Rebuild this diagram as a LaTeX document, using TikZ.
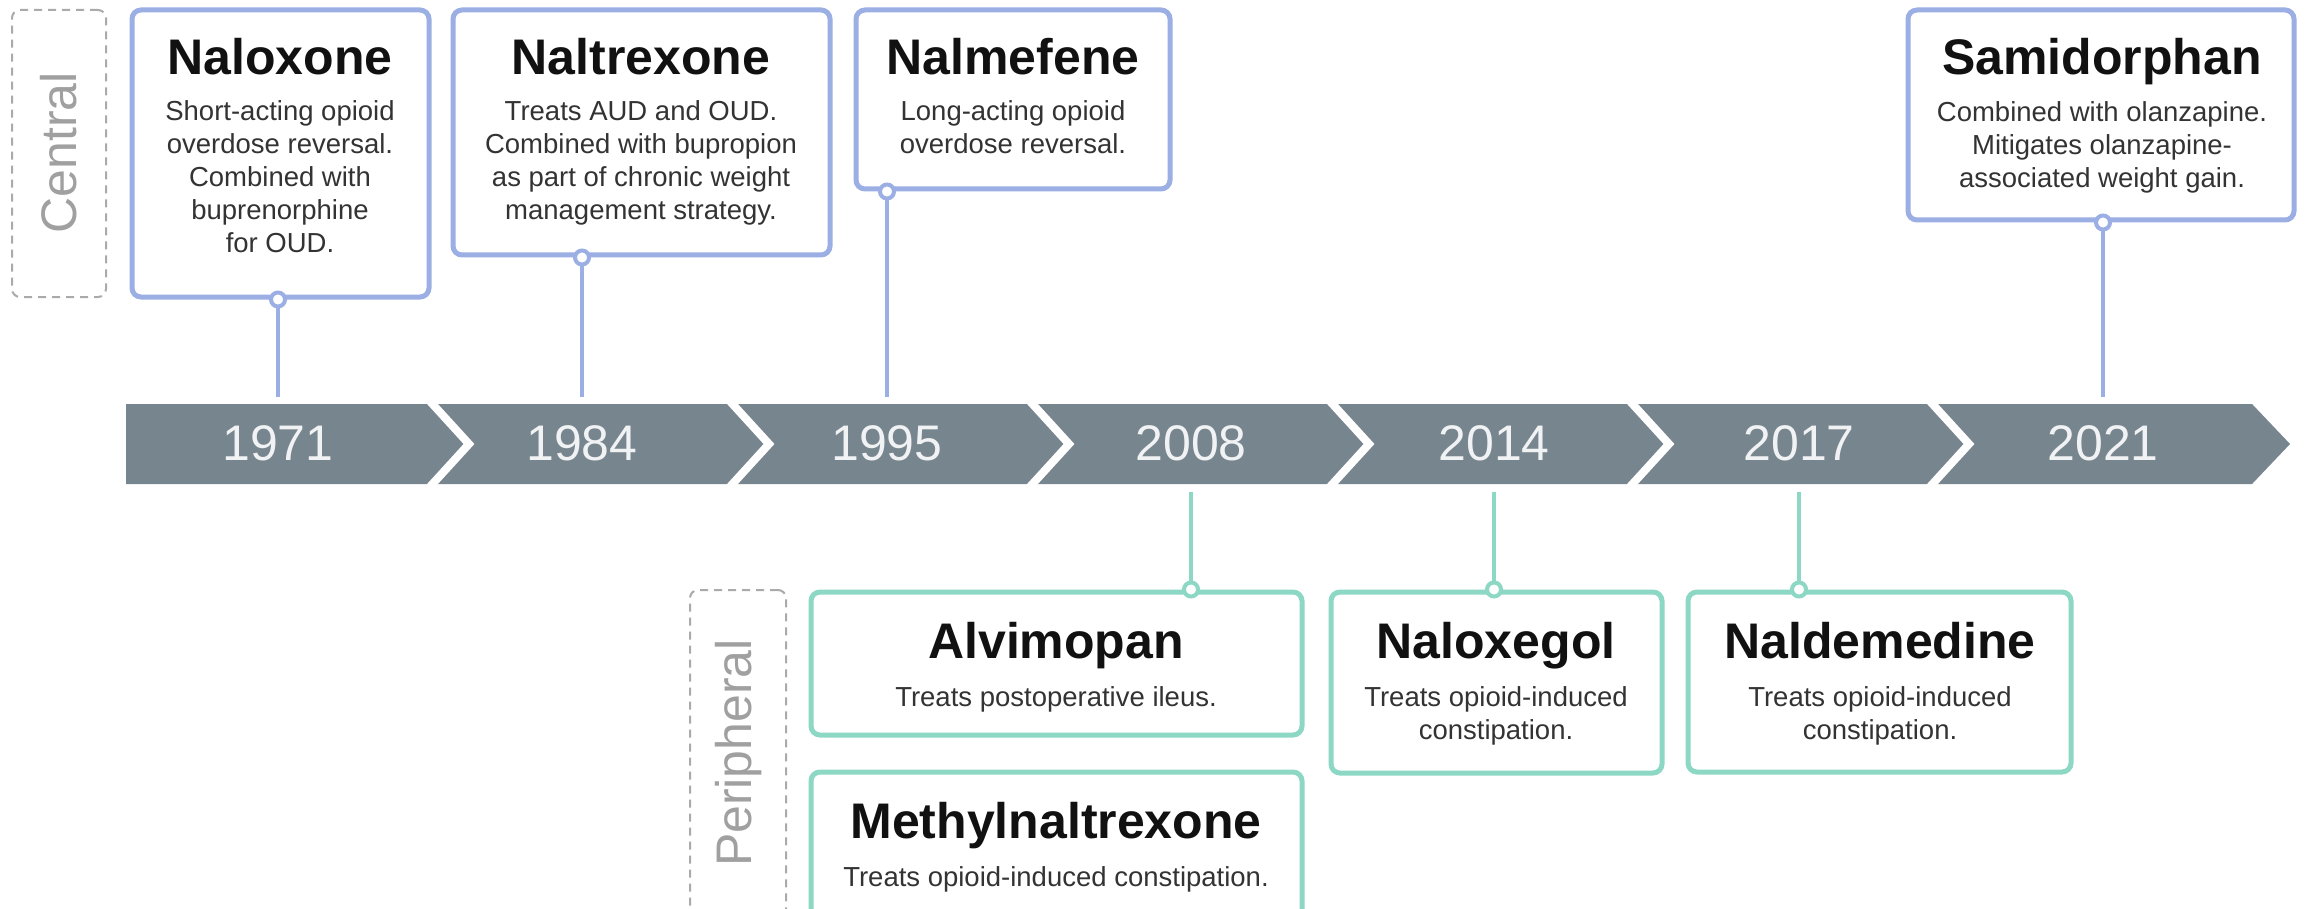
\documentclass[tikz,border=0pt]{standalone}
\usepackage{fontspec}
\setmainfont{Liberation Sans}
\usetikzlibrary{calc}
\definecolor{barc}{RGB}{119,133,142}
\definecolor{yrc}{RGB}{240,242,244}
\definecolor{cblue}{RGB}{155,175,228}
\definecolor{pteal}{RGB}{140,216,197}
\definecolor{dashc}{RGB}{170,170,170}
\definecolor{sidec}{RGB}{160,160,160}
\definecolor{titc}{RGB}{17,17,17}
\definecolor{bodc}{RGB}{51,51,51}
\newcommand\bodylines[4]{%
  \foreach \l [count=\i] in {#4}
    \node[bod] (#1-\i) at (#2,{#3+33*(\i-1)}) {\l};}
\begin{document}
\begin{tikzpicture}[x=1pt,y=-1pt,
 bx/.style={draw, line width=5pt, rounded corners=9pt, fill=white, inner sep=0pt},
 cbx/.style={bx, draw=cblue},
 pbx/.style={bx, draw=pteal},
 dbx/.style={draw=dashc, dashed, dash pattern=on 8pt off 6pt, line width=2pt, rounded corners=8pt, inner sep=0pt},
 conn/.style={line width=4.5pt},
 dot/.style={circle, fill=white, line width=4pt, minimum size=14pt, inner sep=0pt},
 ttl/.style={font=\fontsize{50}{60}\selectfont\bfseries, text=titc, inner sep=0pt, anchor=base},
 bod/.style={font=\fontsize{27.5}{33}\selectfont, text=bodc, inner sep=0pt, anchor=base},
 yr/.style={font=\fontsize{50}{60}\selectfont, text=yrc, inner sep=0pt},
 side/.style={font=\fontsize{50}{60}\selectfont, text=sidec, rotate=90, inner sep=0pt},
]
\path[use as bounding box, clip] (0,0) rectangle (2306,909);
\fill[white] (0,0) rectangle (2306,909);

% timeline bar
\fill[barc] (126,404) -- (2252,404) -- (2290,444) -- (2252,484) -- (126,484) -- cycle;
\foreach \g in {427,727,1027,1327,1627,1927}
  \draw[white, line width=8pt, miter limit=10] (\g,398) -- (\g+42,444) -- (\g,490);

\node[yr] (y1971) at (278,443) {1971};
\node[yr] (y1984) at (582,443) {1984};
\node[yr] (y1995) at (887,443) {1995};
\node[yr] (y2008) at (1191,443) {2008};
\node[yr] (y2014) at (1494,443) {2014};
\node[yr] (y2017) at (1799,443) {2017};
\node[yr] (y2021) at (2103,443) {2021};

% connector ends at bar
\coordinate (c1971) at (278,397);
\coordinate (c1984) at (582,397);
\coordinate (c1995) at (887,397);
\coordinate (c2021) at (2103,397);
\coordinate (c2008) at (1191,492);
\coordinate (c2014) at (1494,492);
\coordinate (c2017) at (1799,492);

% side labels
\node[dbx, minimum width=94pt, minimum height=287pt] (cent) at (59,153.5) {};
\node[side] (centl) at (59,153) {Central};
\node[dbx, minimum width=96pt, minimum height=370pt] (peri) at (738,775) {};
\node[side] (peril) at (739,753) {Peripheral};

% central boxes
\node[cbx, minimum width=297pt, minimum height=287pt] (b1) at (280.5,153.5) {};
\node[cbx, minimum width=377pt, minimum height=245pt] (b2) at (641.5,132.5) {};
\node[cbx, minimum width=314pt, minimum height=179pt] (b3) at (1013,99.5) {};
\node[cbx, minimum width=386pt, minimum height=210pt] (b4) at (2101,115) {};

% peripheral boxes
\node[pbx, minimum width=491pt, minimum height=143pt] (b5) at (1056.5,663.5) {};
\node[pbx, minimum width=491pt, minimum height=188pt] (b6) at (1056.5,866) {};
\node[pbx, minimum width=331pt, minimum height=181pt] (b7) at (1496.5,682.5) {};
\node[pbx, minimum width=383pt, minimum height=180pt] (b8) at (1879.5,682) {};

% connectors
\draw[conn, cblue] (b1.south -| c1971) -- (c1971);
\draw[conn, cblue] (b2.south -| c1984) -- (c1984);
\draw[conn, cblue] (b3.south -| c1995) -- (c1995);
\draw[conn, cblue] (b4.south -| c2021) -- (c2021);
\draw[conn, pteal] (c2008) -- (b5.north -| c2008);
\draw[conn, pteal] (c2014) -- (b7.north -| c2014);
\draw[conn, pteal] (c2017) -- (b8.north -| c2017);

\node[dot, draw=cblue] (d1) at (b1.south -| c1971) {};
\node[dot, draw=cblue] (d2) at (b2.south -| c1984) {};
\node[dot, draw=cblue] (d3) at (b3.south -| c1995) {};
\node[dot, draw=cblue] (d4) at (b4.south -| c2021) {};
\node[dot, draw=pteal] (d5) at (b5.north -| c2008) {};
\node[dot, draw=pteal] (d6) at (b7.north -| c2014) {};
\node[dot, draw=pteal] (d7) at (b8.north -| c2017) {};

% texts
\node[ttl] (t1) at (280,75) {Naloxone};
\bodylines{s1}{280}{121}{Short-acting opioid,overdose reversal.,Combined with,buprenorphine,for OUD.}
\node[ttl] (t2) at (641,75) {Naltrexone};
\bodylines{s2}{641}{121}{Treats AUD and OUD.,Combined with bupropion,as part of chronic weight,management strategy.}
\node[ttl] (t3) at (1013,75) {Nalmefene};
\bodylines{s3}{1013}{121}{Long-acting opioid,overdose reversal.}
\node[ttl] (t4) at (2102,75) {Samidorphan};
\bodylines{s4}{2102}{122}{Combined with olanzapine.,Mitigates olanzapine-,associated weight gain.}

\node[ttl] (t5) at (1056,658) {Alvimopan};
\bodylines{s5}{1056}{706}{Treats postoperative ileus.}
\node[ttl] (t6) at (1056,838) {Methylnaltrexone};
\bodylines{s6}{1056}{886}{Treats opioid-induced constipation.}
\node[ttl] (t7) at (1496,658) {Naloxegol};
\bodylines{s7}{1496}{706}{Treats opioid-induced,constipation.}
\node[ttl] (t8) at (1880,658) {Naldemedine};
\bodylines{s8}{1880}{706}{Treats opioid-induced,constipation.}
\end{tikzpicture}
\end{document}
